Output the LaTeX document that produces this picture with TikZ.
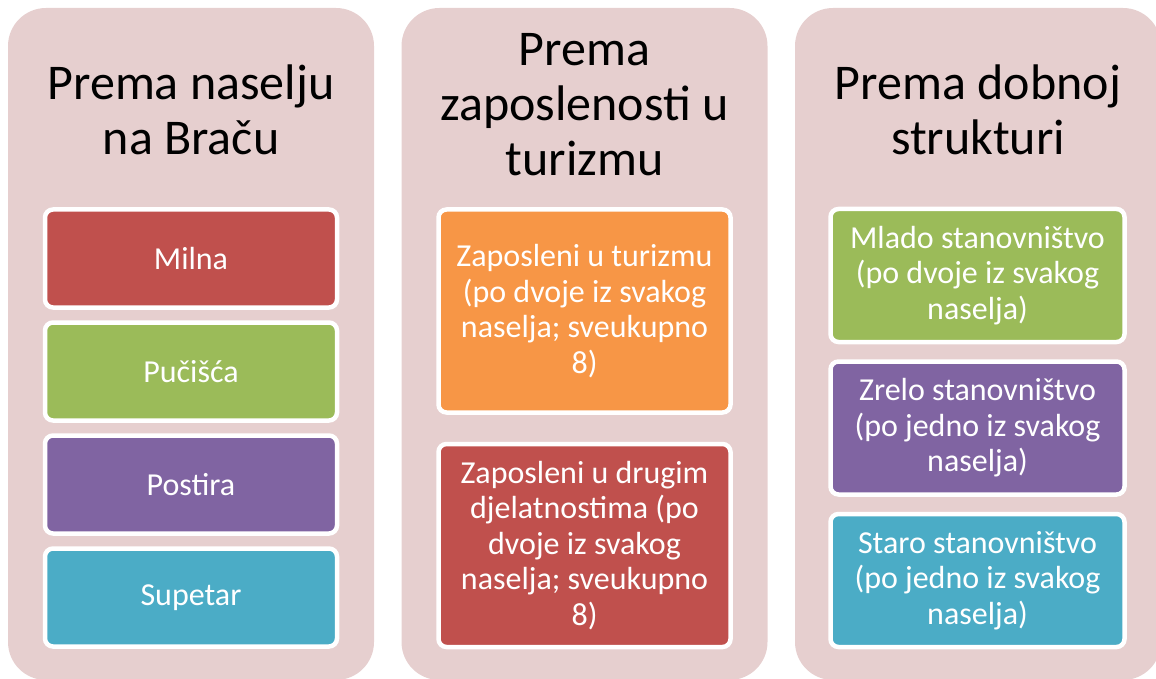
\documentclass[tikz,border=0pt]{standalone}
\usepackage{fontspec}
\setmainfont{Carlito}
\usepackage{tikz}

\definecolor{colbg}{HTML}{E6CFCF}
\definecolor{offred}{HTML}{C0504D}
\definecolor{offgreen}{HTML}{9BBB59}
\definecolor{offpurple}{HTML}{8064A2}
\definecolor{offblue}{HTML}{4BACC6}
\definecolor{offorange}{HTML}{F79646}

\begin{document}
\begin{tikzpicture}[x=1pt,y=-1pt,
  column/.style={fill=colbg,rounded corners=38pt,inner sep=0pt,
    minimum width=366pt,minimum height=672pt},
  title/.style={inner sep=0pt,align=center,font=\fontsize{50}{55}\selectfont},
  unit/.style={draw=white,line width=4.5pt,rounded corners=8pt,inner sep=0pt,
    text=white,align=center,minimum width=292pt,
    font=\fontsize{32}{35.5}\selectfont}]
\useasboundingbox (0,0) rectangle (1156,679);
\clip (0,0) rectangle (1156,679);

% columns
\node[column] (col1) at (191,344) {};
\node[column] (col2) at (584.5,344) {};
\node[column] (col3) at (978,344) {};

\node[title] (t1) at (191,110) {Prema naselju\\na Braču};
\node[title] (t2) at (584.5,105) {Prema\\zaposlenosti u\\turizmu};
\node[title] (t3) at (978,110) {Prema dobnoj\\strukturi};

% first column
\node[unit,fill=offred,minimum height=98pt] (milna) at (191,258.5) {Milna};
\node[unit,fill=offgreen,minimum height=98pt] (pucisca) at (191,371.5) {Pučišća};
\node[unit,fill=offpurple,minimum height=98pt] (postira) at (191,484.5) {Postira};
\node[unit,fill=offblue,minimum height=98pt] (supetar) at (191,597.5) {Supetar};

% second column
\node[unit,fill=offorange,minimum height=203pt] (turizam) at (584.5,311)
  {Zaposleni u turizmu\\(po dvoje iz svakog\\naselja; sveukupno\\8)};
\node[unit,fill=offred,minimum height=203pt] (drugi) at (584.5,545.5)
  {Zaposleni u drugim\\djelatnostima (po\\dvoje iz svakog\\naselja; sveukupno\\8)};

% third column
\node[unit,fill=offgreen,minimum height=133pt,minimum width=294pt] (mladi) at (977.5,275.5)
  {Mlado stanovništvo\\(po dvoje iz svakog\\naselja)};
\node[unit,fill=offpurple,minimum height=133pt,minimum width=294pt] (zreli) at (977.5,428)
  {Zrelo stanovništvo\\(po jedno iz svakog\\naselja)};
\node[unit,fill=offblue,minimum height=133pt,minimum width=294pt] (stari) at (977.5,580.5)
  {Staro stanovništvo\\(po jedno iz svakog\\naselja)};
\end{tikzpicture}
\end{document}
